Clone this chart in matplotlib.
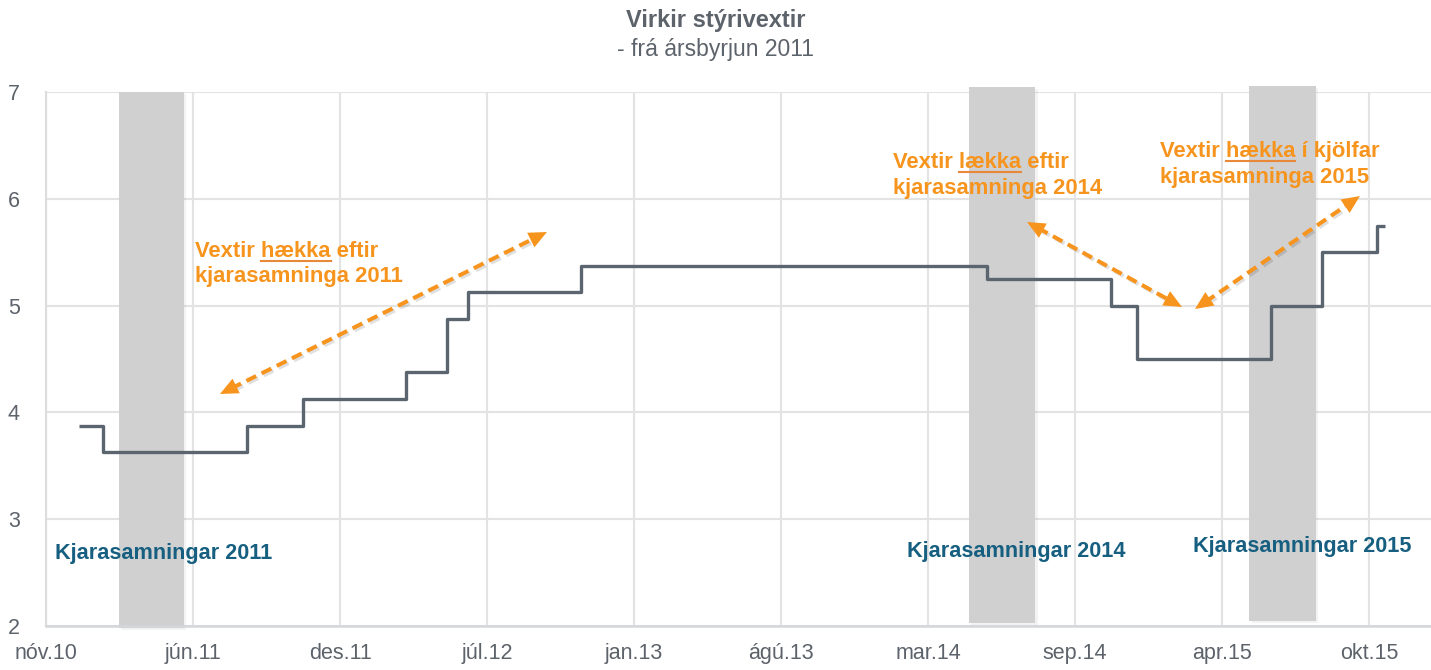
import numpy as np
import pandas as pd
import matplotlib
matplotlib.use("Agg")
import matplotlib.pyplot as plt
import matplotlib.patheffects as pe
from matplotlib.patches import FancyArrowPatch

plt.rcParams['font.family'] = ['Liberation Sans', 'DejaVu Sans']

# effective policy rate, value holds from each date until the next one
change_dates = ["2011-01-01", "2011-02-02", "2011-08-17", "2011-11-02", "2012-03-21",
                "2012-05-16", "2012-06-13", "2012-11-14", "2014-05-20", "2014-11-05",
                "2014-12-10", "2015-06-10", "2015-08-19", "2015-11-01"]
rates = [3.875, 3.625, 3.875, 4.125, 4.375, 4.875, 5.125, 5.375,
         5.25, 5.0, 4.5, 5.0, 5.5, 5.75]
end_date = "2015-11-12"

# wage agreement periods (grey bands)
wage_periods = [("2011-02-24", "2011-05-24"),
                ("2014-04-26", "2014-07-25"),
                ("2015-05-12", "2015-08-10")]
wage_labels = ["Kjarasamningar 2011", "Kjarasamningar 2014", "Kjarasamningar 2015"]

# x axis: excel style date axis, a tick every 200 days
axis_start = "2010-11-17"
tick_step_days = 200
tick_labels = ["nóv.10", "jún.11", "des.11", "júl.12", "jan.13",
               "ágú.13", "mar.14", "sep.14", "apr.15", "okt.15"]
y_ticks = [2, 3, 4, 5, 6, 7]

line_col = '#5a6570'
text_col = '#5d636b'
grid_col = '#e3e3e3'
band_col = '#d0d0d0'
orange = '#f7941d'
teal = '#165f80'

fig = plt.figure(figsize=(14.31, 6.70), dpi=100)
ax = fig.add_axes([46 / 1431, 44 / 670, 1385 / 1431, 534 / 670])

x0 = pd.Timestamp(axis_start)
ticks = [x0 + pd.Timedelta(days=tick_step_days * i) for i in range(len(tick_labels))]

# grey bands
band_extent = [(-0.004, 1.0), (0.0056, 1.0094), (0.0094, 1.011)]
for (a, b), (lo, hi) in zip(wage_periods, band_extent):
    ax.axvspan(pd.Timestamp(a), pd.Timestamp(b), ymin=lo, ymax=hi, color=band_col,
               lw=0, zorder=1, clip_on=False,
               path_effects=[pe.SimplePatchShadow(offset=(1.5, -1.5), alpha=0.06), pe.Normal()])

# the rate line
xs = [pd.Timestamp(d) for d in change_dates] + [pd.Timestamp(end_date)]
ys = rates + [rates[-1]]
ax.plot(xs, ys, drawstyle='steps-post', color=line_col, lw=2.4, zorder=3,
        solid_capstyle='butt')

ax.set_xlim(x0, x0 + pd.Timedelta(days=1884))
ax.set_ylim(2, 7)
ax.set_xticks(ticks)
ax.set_xticklabels(tick_labels)
ax.set_yticks(y_ticks)
ax.tick_params(axis='both', length=0, labelsize=15.5, colors=text_col)
ax.tick_params(axis='x', pad=12)
ax.tick_params(axis='y', pad=19)
ax.grid(True, color=grid_col, lw=1.5, zorder=0)
ax.set_axisbelow(True)
for s in ['top', 'right']:
    ax.spines[s].set_visible(False)
ax.spines['left'].set_color('#dcdcdc')
ax.spines['left'].set_linewidth(1.5)
ax.spines['bottom'].set_color('#d4d6d9')
ax.spines['bottom'].set_linewidth(1.8)

# titles
fig.text(0.5, 0.9597, "Virkir stýrivextir", ha='center', va='baseline',
         fontsize=17, fontweight='bold', color=text_col)
fig.text(0.5, 0.9164, "- frá ársbyrjun 2011", ha='center', va='baseline',
         fontsize=16.5, color=text_col)

# wage agreement labels
label_pos = [(0.0065, 0.1255), (0.6217, 0.1292), (0.8282, 0.1386)]
for lab, (tx, ty) in zip(wage_labels, label_pos):
    ax.text(tx, ty, lab, transform=ax.transAxes, ha='left', va='baseline',
            fontsize=15.6, fontweight='bold', color=teal, zorder=5)

# orange notes: (first line, underlined word, second line, x, y1, y2)
notes = [("Vextir hækka eftir", "hækka", "kjarasamninga 2011", 0.1076, 0.691, 0.644),
         ("Vextir lækka eftir", "lækka", "kjarasamninga 2014", 0.6116, 0.8577, 0.809),
         ("Vextir hækka í kjölfar", "hækka", "kjarasamninga 2015", 0.8043, 0.8783, 0.8296)]
note_texts = []
for l1, word, l2, tx, ty1, ty2 in notes:
    t1 = ax.text(tx, ty1, l1, transform=ax.transAxes, ha='left', va='baseline',
                 fontsize=15.8, fontweight='bold', color=orange, zorder=5)
    ax.text(tx, ty2, l2, transform=ax.transAxes, ha='left', va='baseline',
            fontsize=15.8, fontweight='bold', color=orange, zorder=5)
    note_texts.append((t1, l1, word, tx, ty1))

# dashed double headed arrows, axes fractions
arrows = [((0.1256, 0.4345), (0.3617, 0.7378)),
          ((0.7083, 0.7566), (0.8202, 0.5974)),
          ((0.8296, 0.5936), (0.9487, 0.8052))]
W, H = 1385.0, 534.0
head_len = 18.0
for p0, p1 in arrows:
    p0 = np.array(p0)
    p1 = np.array(p1)
    d = (p1 - p0) * [W, H]
    d = d / np.hypot(*d)
    back = d * head_len / [W, H]
    a = p0 + back * 0.7
    b = p1 - back * 0.7
    ax.plot([a[0], b[0]], [a[1], b[1]], transform=ax.transAxes, color=orange,
            lw=2.9, ls=(0, (2.7, 1.5)), zorder=4, clip_on=False,
            path_effects=[pe.SimpleLineShadow(offset=(1.5, -1.5), alpha=0.12), pe.Normal()])
    for tip, base in [(p1, p1 - back), (p0, p0 + back)]:
        ax.add_patch(FancyArrowPatch(tuple(base), tuple(tip), transform=ax.transAxes,
                                     arrowstyle='-|>,head_length=1.0,head_width=0.45',
                                     mutation_scale=13, color=orange, lw=0, zorder=4,
                                     shrinkA=0, shrinkB=0, clip_on=False))

# underline the verb in each note
fig.canvas.draw()
r = fig.canvas.get_renderer()
inv = ax.transAxes.inverted()


def text_width(s, ref):
    tmp = ax.text(0, 0, s, fontproperties=ref.get_fontproperties())
    w = tmp.get_window_extent(r).width
    tmp.remove()
    return w


for t1, l1, word, tx, ty1 in note_texts:
    prefix = l1[:l1.index(word) + len(word)]
    w_pre = text_width(prefix, t1)
    w_word = text_width(word, t1)
    bx, by = ax.transAxes.transform((tx, ty1))
    u0 = inv.transform((bx + w_pre - w_word, by - 4))
    u1 = inv.transform((bx + w_pre, by - 4))
    ax.plot([u0[0], u1[0]], [u0[1], u1[1]], transform=ax.transAxes,
            color='#e8893a', lw=1.5, zorder=5, clip_on=False)

fig.savefig("out.png", dpi=100)
